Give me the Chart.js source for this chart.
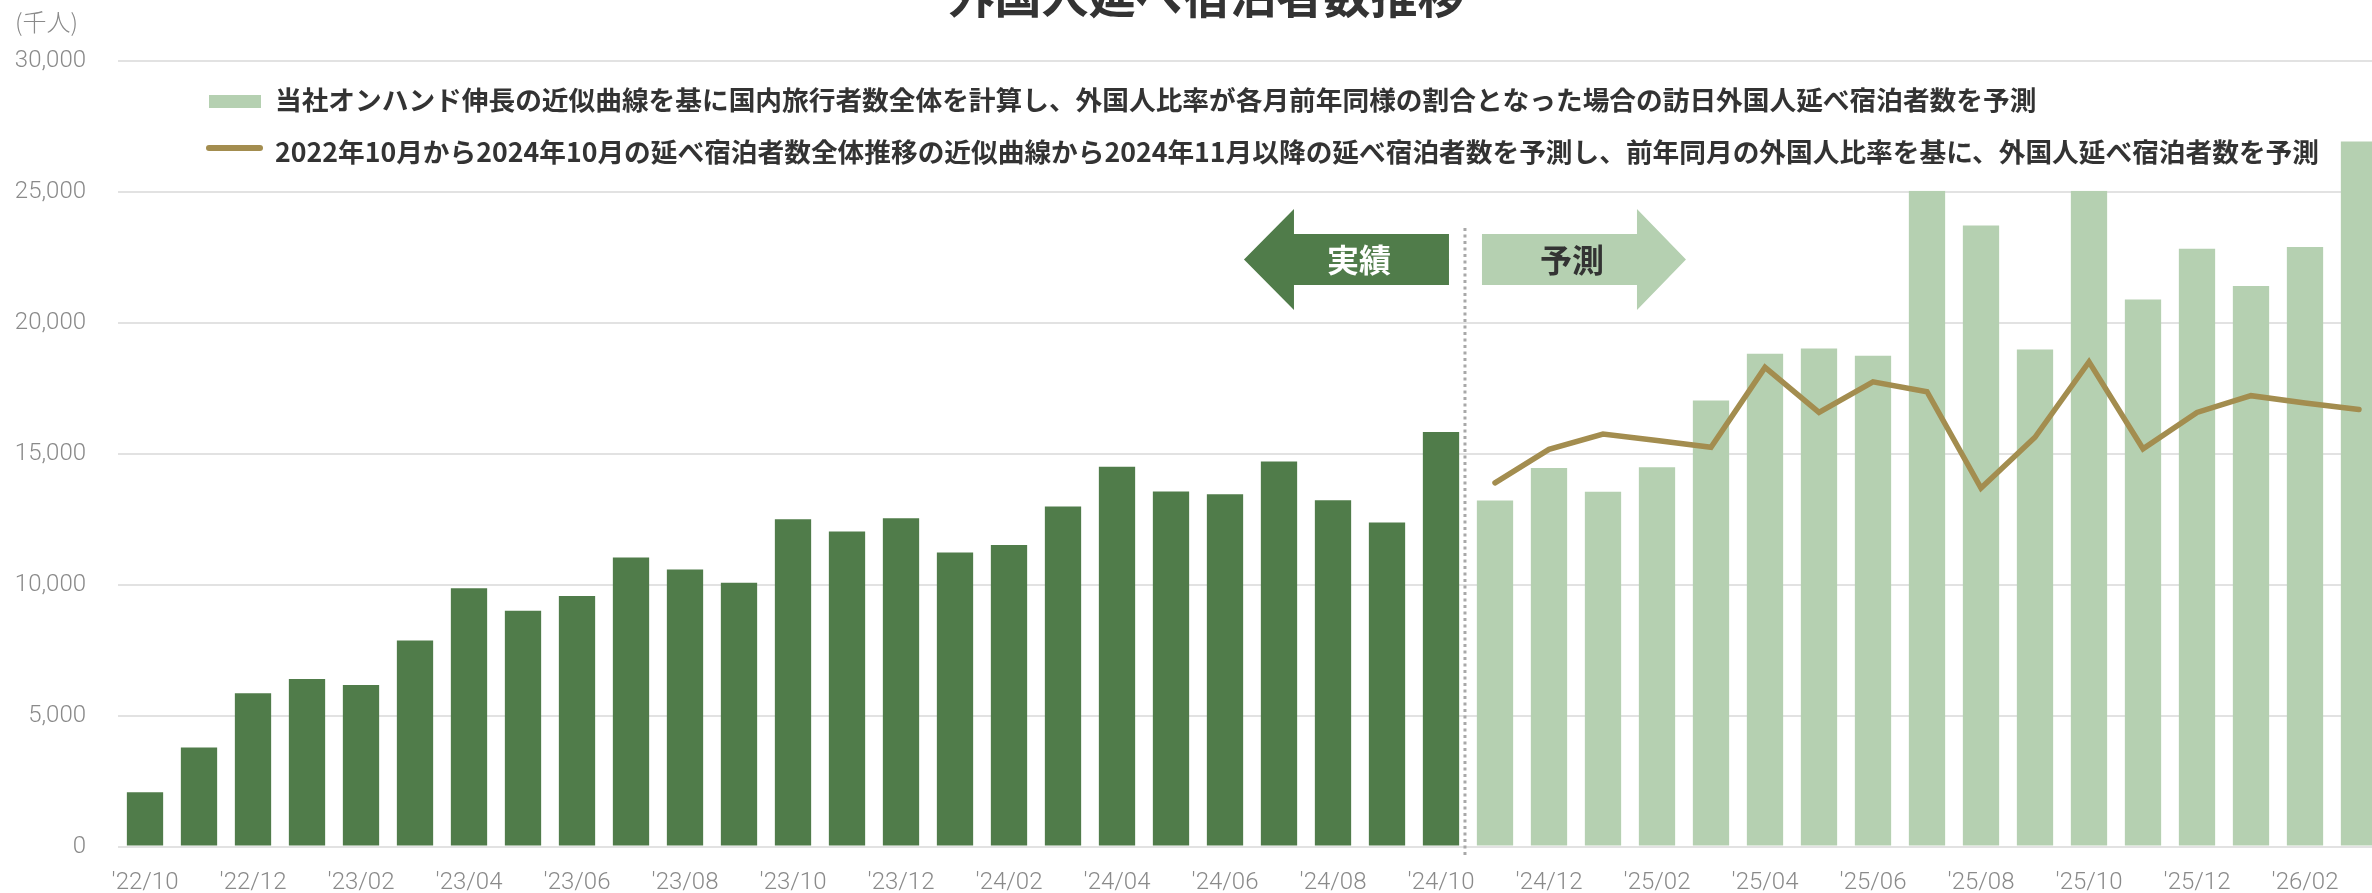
<!DOCTYPE html>
<html><head><meta charset="utf-8">
<script src="https://cdn.jsdelivr.net/npm/chart.js@4.4.1/dist/chart.umd.min.js"></script>
<style>
html,body{margin:0;padding:0;overflow:hidden;background:#fff;width:2372px;height:893px}
#wrap{position:absolute;left:0;top:0;width:2386px;height:893px}
canvas{display:block}
</style>
</head><body><div id="wrap"><canvas id="c" width="2386" height="893"></canvas></div>
<script>
const categories = ["'22/10","'22/11","'22/12","'23/01","'23/02","'23/03","'23/04","'23/05","'23/06","'23/07","'23/08","'23/09",
  "'23/10","'23/11","'23/12","'24/01","'24/02","'24/03","'24/04","'24/05","'24/06","'24/07","'24/08","'24/09","'24/10",
  "'24/11","'24/12","'25/01","'25/02","'25/03","'25/04","'25/05","'25/06","'25/07","'25/08","'25/09","'25/10","'25/11","'25/12",
  "'26/01","'26/02","'26/03"];
const tickLabels = ["'22/10","'22/12","'23/02","'23/04","'23/06","'23/08","'23/10","'23/12","'24/02","'24/04","'24/06","'24/08","'24/10",
  "'24/12","'25/02","'25/04","'25/06","'25/08","'25/10","'25/12","'26/02"];
const yTicks = [0, 5000, 10000, 15000, 20000, 25000, 30000];
// 実績 ('22/10 - '24/10)
const actualValues = [2080, 3780, 5860, 6400, 6170, 7870, 9870, 9010, 9570, 11040, 10580, 10080,
  12500, 12030, 12540, 11230, 11520, 12990, 14510, 13560, 13460, 14710, 13230, 12380, 15830];
// 予測 bars ('24/11 - '26/03)
const forecastBarValues = [13220, 14460, 13550, 14490, 17040, 18820, 19020, 18740, 27500, 23720, 18980, 27000,
  20890, 22830, 21410, 22900, 26930];
// 予測 line ('24/11 - '26/03)
const forecastLineValues = [13890, 15170, 15755, 15505, 15250, 18300, 16580, 17750, 17370, 13690, 15630, 18510,
  15190, 16580, 17220, 16940, 16690];

const legend1 = '当社オンハンド伸長の近似曲線を基に国内旅行者数全体を計算し、外国人比率が各月前年同様の割合となった場合の訪日外国人延べ宿泊者数を予測';
const legend2 = '2022年10月から2024年10月の延べ宿泊者数全体推移の近似曲線から2024年11月以降の延べ宿泊者数を予測し、前年同月の外国人比率を基に、外国人延べ宿泊者数を予測';
const titleText = '外国人延べ宿泊者数推移';
const unitText = '(千人)';

const nA = actualValues.length;
const actualData = categories.map((c,i)=> i < nA ? actualValues[i] : null);
const forecastBarData = categories.map((c,i)=> i >= nA ? forecastBarValues[i-nA] : null);
const forecastLineData = categories.map((c,i)=> i >= nA ? forecastLineValues[i-nA] : null);

const DARK = '#507c4a', LIGHT = '#b5d0b1', GOLD = '#a38d4f';
const CJK = "'Noto Sans CJK JP', 'Noto Sans', sans-serif";

const overlay = {
  id: 'overlay',
  afterDatasetsDraw(chart) {
    const {ctx, scales: {x, y}} = chart;
    ctx.save();
    // legend background
    const top = y.getPixelForValue(30000) + 3;
    const bot = y.getPixelForValue(25000) - 1;
    ctx.fillStyle = '#fff';
    ctx.fillRect(195, top, 2140, bot - top);
    // legend markers
    ctx.fillStyle = LIGHT;
    ctx.fillRect(209, 95, 52, 13);
    ctx.strokeStyle = GOLD; ctx.lineWidth = 6; ctx.lineCap = 'round';
    ctx.beginPath(); ctx.moveTo(209, 148); ctx.lineTo(260, 148); ctx.stroke();
    ctx.fillStyle = '#333';
    ctx.font = "bold 26.7px " + CJK;
    ctx.textBaseline = 'middle'; ctx.textAlign = 'left';
    ctx.fillText(legend1, 275, 100);
    ctx.fillText(legend2, 275, 152);

    // divider
    const pitch = x.getPixelForValue(1) - x.getPixelForValue(0);
    const dx = x.getPixelForValue(nA - 1) + 0.444 * pitch;
    ctx.strokeStyle = '#a8a8a8'; ctx.lineWidth = 3; ctx.lineCap = 'butt';
    ctx.setLineDash([3, 3.5]);
    ctx.beginPath(); ctx.moveTo(dx, 228); ctx.lineTo(dx, 856); ctx.stroke();
    ctx.setLineDash([]);

    // arrows
    const sT = 234, sB = 285, hT = 209, hB = 310, cy = 259.5;
    ctx.fillStyle = DARK;
    ctx.beginPath();
    ctx.moveTo(dx - 221, cy); ctx.lineTo(dx - 171, hT); ctx.lineTo(dx - 171, sT);
    ctx.lineTo(dx - 16, sT); ctx.lineTo(dx - 16, sB); ctx.lineTo(dx - 171, sB);
    ctx.lineTo(dx - 171, hB); ctx.closePath(); ctx.fill();
    ctx.fillStyle = LIGHT;
    ctx.beginPath();
    ctx.moveTo(dx + 221, cy); ctx.lineTo(dx + 172, hT); ctx.lineTo(dx + 172, sT);
    ctx.lineTo(dx + 17, sT); ctx.lineTo(dx + 17, sB); ctx.lineTo(dx + 172, sB);
    ctx.lineTo(dx + 172, hB); ctx.closePath(); ctx.fill();
    ctx.font = "bold 32px " + CJK;
    ctx.textAlign = 'center'; ctx.textBaseline = 'middle';
    ctx.fillStyle = '#fff';
    ctx.fillText('実績', dx - 106, cy);
    ctx.fillStyle = '#333';
    ctx.fillText('予測', dx + 107, cy);

    // title (cut at top edge)
    ctx.font = "bold 47px " + CJK;
    ctx.fillStyle = '#333';
    ctx.fillText(titleText, 1206, -5);
    // unit
    ctx.font = "300 24px " + CJK;
    ctx.fillStyle = '#8a8a8a';
    ctx.textAlign = 'left';
    ctx.fillText(unitText, 15, 22);
    ctx.restore();
  }
};

new Chart(document.getElementById('c'), {
  data: {
    labels: categories,
    datasets: [
      { type: 'line', label: legend2, data: forecastLineData, borderColor: GOLD, borderWidth: 5.5,
        pointRadius: 0, borderCapStyle: 'round', borderJoinStyle: 'miter', tension: 0, order: 0, spanGaps: false },
      { type: 'bar', label: '実績', data: actualData, backgroundColor: DARK, grouped: false,
        categoryPercentage: 1, barPercentage: 0.672, order: 1 },
      { type: 'bar', label: legend1, data: forecastBarData, backgroundColor: LIGHT, grouped: false,
        categoryPercentage: 1, barPercentage: 0.672, order: 2 }
    ]
  },
  options: {
    responsive: false, maintainAspectRatio: false, animation: false, devicePixelRatio: 1,
    layout: { padding: { top: 61, left: 0, right: 0, bottom: 0 } },
    plugins: { legend: { display: false }, title: { display: false }, tooltip: { enabled: false } },
    scales: {
      x: {
        grid: { display: false }, border: { display: false },
        ticks: {
          autoSkip: false, maxRotation: 0, minRotation: 0, padding: 16, color: '#8a8a8a',
          font: { family: 'Roboto', weight: '300', size: 24, lineHeight: 1 },
          callback: function(v, i) { const l = categories[i]; return tickLabels.includes(l) ? l : ''; }
        },
        afterFit: s => { s.height = 44; }
      },
      y: {
        min: 0, max: 30000,
        afterBuildTicks: s => { s.ticks = yTicks.map(v => ({ value: v })); },
        grid: { color: '#e2e2e2', lineWidth: 2, drawTicks: false },
        border: { display: false },
        ticks: {
          padding: 32, color: '#8a8a8a',
          font: { family: 'Roboto', weight: '300', size: 24 },
          callback: v => v.toLocaleString('en-US')
        },
        afterFit: s => { s.width = 118; }
      }
    }
  },
  plugins: [overlay]
});
</script>
</body></html>
